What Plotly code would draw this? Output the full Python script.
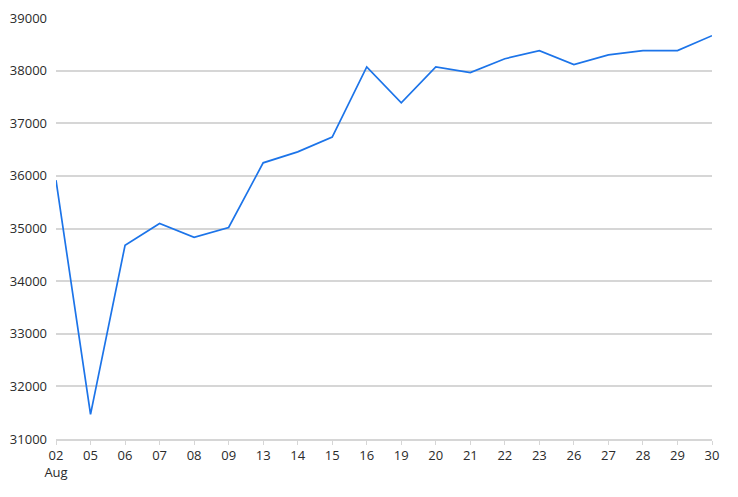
import plotly.graph_objects as go

days = ["02", "05", "06", "07", "08", "09", "13", "14", "15", "16",
        "19", "20", "21", "22", "23", "26", "27", "28", "29", "30"]
tick_labels = ["02<br>Aug"] + days[1:]
values = [35918, 31469, 34682, 35095, 34834, 35019, 36248, 36457, 36737, 38070,
          37390, 38070, 37962, 38226, 38380, 38114, 38300, 38380, 38380, 38664]

fig = go.Figure()
fig.add_trace(go.Scatter(
    x=days, y=values, mode="lines",
    line=dict(color="#1c74e9", width=1.7),
    hoverinfo="x+y",
))

# page body has an 8px margin, so the margins here are shifted by that
fig.update_layout(
    width=738, height=497,
    margin=dict(l=48, r=34, t=10, b=66),
    paper_bgcolor="white", plot_bgcolor="white",
    showlegend=False,
    font=dict(family="Open Sans", size=13, color="#2b2b2b"),
    xaxis=dict(
        type="category", automargin=False,
        tickmode="array", tickvals=days, ticktext=tick_labels,
        showgrid=False, zeroline=False,
        showline=True, linecolor="#d6d6d6", linewidth=1.5,
        ticks="outside", ticklen=4, tickcolor="#d6d6d6", tickwidth=1,
        range=[0, len(days) - 1],
    ),
    yaxis=dict(
        range=[31000, 39000], dtick=1000, tickformat="d", automargin=False,
        showgrid=True, gridcolor="#d6d6d6", gridwidth=1.5,
        zeroline=False, showline=False, ticks="",
        ticklabelstandoff=8,
    ),
)

fig.write_html("out.html")
